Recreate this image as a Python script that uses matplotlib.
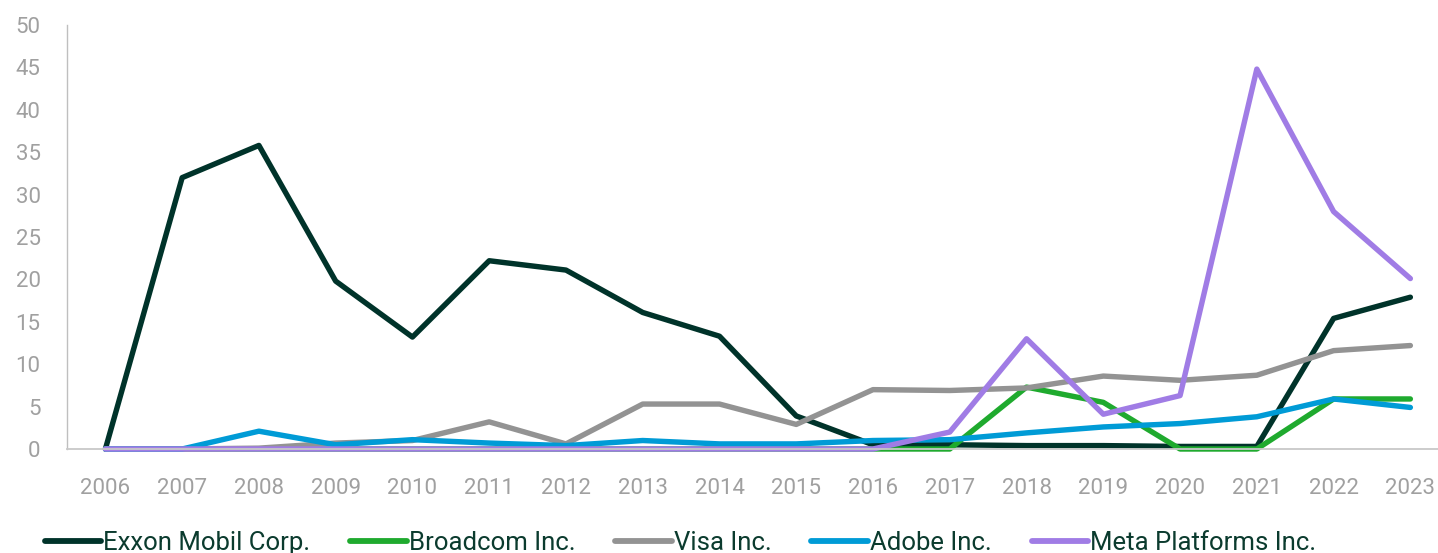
import matplotlib.pyplot as plt

years = [str(y) for y in range(2006, 2024)]

exxon = [0, 32.0, 35.8, 19.8, 13.2, 22.2, 21.1, 16.1, 13.3, 3.9, 0.5, 0.5, 0.4, 0.4, 0.3, 0.3, 15.4, 17.9]
broadcom = [0, 0, 0, 0, 0, 0, 0, 0, 0, 0, 0, 0, 7.3, 5.5, 0, 0, 5.9, 5.9]
visa = [0, 0, 0.1, 0.7, 1.0, 3.2, 0.6, 5.3, 5.3, 2.9, 7.0, 6.9, 7.2, 8.6, 8.1, 8.7, 11.6, 12.2]
adobe = [0, 0, 2.1, 0.5, 1.1, 0.7, 0.4, 1.0, 0.6, 0.6, 1.0, 1.1, 1.9, 2.6, 3.0, 3.8, 5.9, 4.9]
meta = [0, 0, 0, 0, 0, 0, 0, 0, 0, 0, 0, 2.0, 13.0, 4.1, 6.3, 44.8, 28.0, 20.1]

series = [
    ("Exxon Mobil Corp.", exxon, "#00332A"),
    ("Broadcom Inc.", broadcom, "#1FAA2E"),
    ("Visa Inc.", visa, "#939393"),
    ("Adobe Inc.", adobe, "#009BD6"),
    ("Meta Platforms Inc.", meta, "#A07CE5"),
]

plt.rcParams['font.family'] = ['Roboto', 'DejaVu Sans']

fig = plt.figure(figsize=(14.38, 5.53), dpi=100)
ax = fig.add_axes([67 / 1438, 1 - 449 / 553, 1 - 67 / 1438, 424 / 553])

x = list(range(len(years)))
for name, vals, color in series:
    ax.plot(x, vals, color=color, lw=3.9, label=name,
            solid_joinstyle='round', solid_capstyle='round', clip_on=False)

ax.set_xlim(-0.5, 17.36)
ax.set_ylim(0, 50)
ax.set_yticks(range(0, 51, 5))
ax.set_xticks(x)
ax.set_xticklabels(years)

for s in ['top', 'right']:
    ax.spines[s].set_visible(False)
ax.spines['left'].set_color('#BFBFBF')
ax.spines['bottom'].set_color('#C8C8C8')
ax.spines['left'].set_linewidth(1.0)
ax.spines['bottom'].set_linewidth(1.3)
ax.tick_params(axis='both', length=0, labelsize=16, colors='#A0A0A0')
ax.tick_params(axis='x', pad=21)
ax.tick_params(axis='y', pad=19)

leg = fig.legend(loc='lower left', bbox_to_anchor=(0.015, -0.045), ncol=5,
                 frameon=False, fontsize=18.5, handlelength=2.2,
                 handletextpad=0.08, columnspacing=1.55)
for t in leg.get_texts():
    t.set_color('#0B3B2E')
for h in leg.get_lines():
    h.set_solid_capstyle('round')
    h.set_linewidth(4.2)

fig.savefig("out.png", dpi=100)
